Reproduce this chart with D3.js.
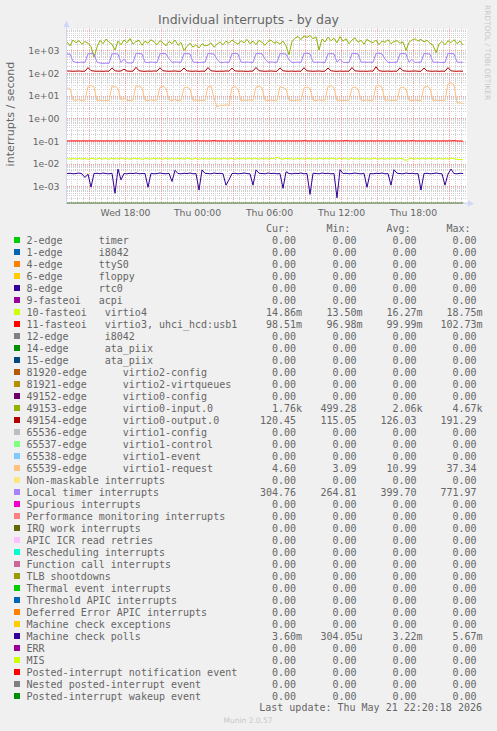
<!DOCTYPE html>
<html><head><meta charset="utf-8">
<script src="https://cdn.jsdelivr.net/npm/d3@7/dist/d3.min.js"></script>
<style>html,body{margin:0;padding:0;background:#f0f0f0;}</style>
</head><body><svg id="c" width="497" height="731"></svg>
<script>
// ---------- DATA ----------
const titleText = "Individual interrupts - by day";
const yTitle = "interrupts / second";
const yTickValues = [1e3, 1e2, 1e1, 1e0, 1e-1, 1e-2, 1e-3];
const yTickLabels = ["1e+03","1e+02","1e+01","1e+00","1e-01","1e-02","1e-03"];
const lastUpdate = "Last update: Thu May 21 22:20:18 2026";

// samples every 15 minutes starting Wed May 20 13:10
const sampleStart = new Date(2026, 4, 20, 13, 10);
const sampleStepMinutes = 15;

const legendNames = [
"2-edge      timer","1-edge      i8042","4-edge      ttyS0","6-edge      floppy","8-edge      rtc0",
"9-fasteoi   acpi","10-fasteoi   virtio4","11-fasteoi   virtio3, uhci_hcd:usb1","12-edge      i8042",
"14-edge      ata_piix","15-edge      ata_piix","81920-edge      virtio2-config","81921-edge      virtio2-virtqueues",
"49152-edge      virtio0-config","49153-edge      virtio0-input.0","49154-edge      virtio0-output.0",
"65536-edge      virtio1-config","65537-edge      virtio1-control","65538-edge      virtio1-event",
"65539-edge      virtio1-request","Non-maskable interrupts","Local timer interrupts","Spurious interrupts",
"Performance monitoring interrupts","IRQ work interrupts","APIC ICR read retries","Rescheduling interrupts",
"Function call interrupts","TLB shootdowns","Thermal event interrupts","Threshold APIC interrupts",
"Deferred Error APIC interrupts","Machine check exceptions","Machine check polls","ERR","MIS",
"Posted-interrupt notification event","Nested posted-interrupt event","Posted-interrupt wakeup event"];

const legendColors = ["#00CC00","#0066B3","#FF8000","#FFCC00","#330099","#990099","#CCFF00","#FF0000","#808080",
"#008F00","#00487D","#B35A00","#B38F00","#6B006B","#8FB300","#B30000","#BEBEBE","#80FF80","#80C9FF","#FFC080",
"#FFE680","#AA80FF","#EE00CC","#FF8080","#666600","#FFBFFF","#00FFCC","#CC6699","#999900",
"#00CC00","#0066B3","#FF8000","#FFCC00","#330099","#990099","#CCFF00","#FF0000","#808080","#008F00"];

const curVals = ["0.00","0.00","0.00","0.00","0.00","0.00","14.86m","98.51m","0.00","0.00","0.00","0.00","0.00","0.00","1.76k","120.45","0.00","0.00","0.00","4.60","0.00","304.76","0.00","0.00","0.00","0.00","0.00","0.00","0.00","0.00","0.00","0.00","0.00","3.60m","0.00","0.00","0.00","0.00","0.00"];
const minVals = ["0.00","0.00","0.00","0.00","0.00","0.00","13.50m","96.98m","0.00","0.00","0.00","0.00","0.00","0.00","499.28","115.05","0.00","0.00","0.00","3.09","0.00","264.81","0.00","0.00","0.00","0.00","0.00","0.00","0.00","0.00","0.00","0.00","0.00","304.05u","0.00","0.00","0.00","0.00","0.00"];
const avgVals = ["0.00","0.00","0.00","0.00","0.00","0.00","16.27m","99.99m","0.00","0.00","0.00","0.00","0.00","0.00","2.06k","126.03","0.00","0.00","0.00","10.99","0.00","399.70","0.00","0.00","0.00","0.00","0.00","0.00","0.00","0.00","0.00","0.00","0.00","3.22m","0.00","0.00","0.00","0.00","0.00"];
const maxVals = ["0.00","0.00","0.00","0.00","0.00","0.00","18.75m","102.73m","0.00","0.00","0.00","0.00","0.00","0.00","4.67k","191.29","0.00","0.00","0.00","37.34","0.00","771.97","0.00","0.00","0.00","0.00","0.00","0.00","0.00","0.00","0.00","0.00","0.00","5.67m","0.00","0.00","0.00","0.00","0.00"];

const virtio4 = [0.0162,0.0158,0.0167,0.0155,0.0170,0.0160,0.0165,0.0152,0.0168,0.0161,
0.0157,0.0172,0.0159,0.0166,0.0154,0.0169,0.0162,0.0158,0.0175,0.0160,
0.0164,0.0156,0.0171,0.0159,0.0167,0.0153,0.0168,0.0162,0.0157,0.0170,
0.0161,0.0165,0.0155,0.0172,0.0160,0.0166,0.0158,0.0169,0.0163,0.0156,
0.0174,0.0161,0.0159,0.0167,0.0154,0.0170,0.0162,0.0158,0.0166,0.0160,
0.0165,0.0157,0.0171,0.0163,0.0159,0.0168,0.0155,0.0169,0.0161,0.0164,
0.0158,0.0173,0.0160,0.0166,0.0156,0.0170,0.0162,0.0159,0.0167,0.0161,
0.0188,0.0163,0.0157,0.0169,0.0160,0.0165,0.0155,0.0171,0.0162,0.0158,
0.0168,0.0161,0.0164,0.0156,0.0172,0.0160,0.0166,0.0159,0.0170,0.0163,
0.0157,0.0169,0.0161,0.0165,0.0154,0.0171,0.0162,0.0158,0.0167,0.0160,
0.0164,0.0156,0.0170,0.0163,0.0159,0.0168,0.0155,0.0166,0.0161,0.0165,
0.0158,0.0172,0.0160,0.0135,0.0163,0.0169,0.0157,0.0166,0.0161,0.0164,
0.0159,0.0170,0.0162,0.0156,0.0168,0.0160,0.0165,0.0158,0.0171,0.0161,
0.0155,0.0149,0.01486];

const virtio3 = [0.0999,0.0998,0.1000,0.0997,0.0999,0.1001,0.0998,0.1003,0.0999,0.0998,
0.1000,0.0999,0.0997,0.0999,0.1001,0.1000,0.0998,0.0999,0.1000,0.0998,
0.0999,0.1000,0.0998,0.0999,0.1001,0.0999,0.1000,0.0998,0.0999,0.1020,
0.1000,0.0999,0.0998,0.1000,0.0999,0.1001,0.0998,0.0999,0.1000,0.0998,
0.0999,0.1000,0.0998,0.1022,0.0999,0.1000,0.0998,0.0999,0.1001,0.1024,
0.0998,0.0999,0.1000,0.0997,0.0999,0.1000,0.0998,0.0999,0.1001,0.0999,
0.1000,0.0998,0.0999,0.1000,0.0998,0.0999,0.1000,0.0998,0.0999,0.1001,
0.0999,0.1000,0.0998,0.0999,0.1000,0.0998,0.0999,0.1000,0.0998,0.1020,
0.0999,0.1000,0.0998,0.0999,0.1001,0.0999,0.1000,0.0998,0.0999,0.1000,
0.0998,0.0999,0.1000,0.1027,0.0999,0.1000,0.0998,0.0999,0.1000,0.0998,
0.0999,0.1000,0.0998,0.0999,0.1001,0.0999,0.1000,0.0998,0.0999,0.1000,
0.0998,0.0999,0.1000,0.0998,0.0999,0.1021,0.0999,0.1000,0.0998,0.0999,
0.1000,0.0998,0.0999,0.1000,0.0998,0.0999,0.1001,0.0999,0.1000,0.1024,
0.0999,0.0985,0.0985];

const virtio0Input = [2400,1600,2900,2200,2700,1900,2500,2100,1500,
500,1400,
2800,2000,3200,2300,1900,
1050,
2600,1800,2900,2200,3400,1900,2500,2800,1700,2600,2100,3000,2400,1800,2700,2200,1600,2500,2000,2900,1700,2300,
1000,
1500,2100,1400,1800,1300,2000,1600,1700,2200,1400,1900,
2400,1800,2600,2100,2900,2300,1900,2700,2200,3100,2000,2600,1800,2800,2300,1700,2500,2900,2100,2400,1900,2600,1600,
650,
2500,3500,4200,3000,4400,3800,4670,3300,4000,
1050,
3200,2400,3900,2700,3500,2200,4100,2600,3300,2000,2900,3600,2300,2800,1900,3100,2500,2200,2900,1800,2600,2300,3000,2000,2500,2700,2100,2400,
1000,
2300,2900,3300,2600,3100,2400,2800,2100,1700,
800,
1900,2500,1800,2700,2200,3000,2000,2600,1760];

const virtio0Output = [124,123,121,122,124,120,122,
175,128,123,121,122,120,123,121,
170,126,122,124,150,123,121,122,
180,127,122,120,123,121,124,122,
172,126,123,121,122,124,120,122,
168,125,122,121,123,120,122,121,
176,126,123,120,122,121,124,122,
165,125,122,123,121,120,122,123,
178,127,123,121,122,124,121,120,
170,126,122,121,123,120,122,121,
174,125,123,121,122,124,120,122,
169,126,122,120,123,121,122,121,
177,125,123,121,122,120,124,122,
191,127,122,121,123,120,122,121,
172,126,123,121,122,124,121,120,
168,125,122,121,123,120,122,121,
175,126,122,121,123,120.45];

const virtio1Request = [22,21,6.5,6.2,6.8,6.0,6.4,
26,29,24,6.1,6.5,5.8,6.3,6.0,
27,25,21,6.4,7.8,6.2,6.0,6.5,
28,26,22,6.3,6.0,6.6,6.2,6.4,
24,26,21,6.5,6.1,6.8,6.0,6.3,
22,24,20,6.2,6.5,6.0,6.4,6.1,
25,27,8.0,3.1,3.8,3.7,3.9,3.8,
23,25,20,6.0,6.4,6.2,6.6,6.1,
24,27,22,6.3,6.0,6.5,5.9,6.2,
25,23,20,6.4,6.1,6.0,6.5,6.2,
22,24,21,6.3,6.0,6.6,6.2,6.4,
26,28,22,6.1,6.5,6.0,6.3,6.2,
22,24,20,6.4,6.1,6.5,6.0,6.3,
27,29,23,6.2,6.6,6.0,6.4,6.1,
22,24,20,6.3,6.0,6.5,6.2,6.0,
24,26,21,6.1,6.4,6.0,6.3,6.2,
33,37.3,30,5.0,4.8,4.6];

const localTimer = [700,690,330,300,295,305,300,
720,730,700,300,280,270,275,268,
710,720,690,290,420,285,280,290,
740,730,710,300,295,310,300,295,
720,740,700,430,300,310,305,300,
730,720,700,310,300,295,300,305,
740,720,690,400,300,295,305,300,
730,750,700,305,300,310,300,295,
720,740,710,420,300,310,300,305,
730,720,690,380,300,295,305,300,
740,760,700,310,300,305,300,295,
720,730,700,305,410,300,295,300,
740,730,710,300,310,300,305,300,
730,772,700,420,300,295,300,305,
720,740,700,300,400,295,300,305,
730,720,690,300,305,300,295,300,
740,730,700,310,300,305];

const mcPolls = [0.0036,0.0037,0.0035,0.0036,0.0038,0.0035,
0.0024,0.0034,0.0009,
0.0036,0.0037,0.0035,0.0038,0.0036,0.0035,0.0037,
0.00048,0.00567,0.0019,
0.0036,0.0035,0.0037,0.0036,0.0038,0.0035,0.0036,
0.0036,0.00089,
0.0037,0.0035,0.0036,0.0038,0.0036,0.0035,0.0037,
0.0016,0.0050,
0.0036,0.0035,0.0037,0.0036,0.0038,0.0035,0.0036,
0.00067,0.0052,
0.0037,0.0036,0.0035,0.0038,0.0036,0.0037,0.0035,
0.0011,0.0019,
0.0036,0.0037,0.0035,0.0036,0.0038,0.0036,0.0035,
0.0011,0.0052,
0.0037,0.0036,0.0035,0.0038,0.0036,0.0037,0.0035,0.0036,
0.0008,0.0043,
0.0036,0.0035,0.0037,0.0036,0.0038,0.0035,0.0036,
0.00043,
0.0037,0.0036,0.0035,0.0038,0.0036,0.0037,0.0035,0.0036,
0.000304,0.0053,
0.0036,0.0037,0.0035,0.0036,0.0038,0.0036,0.0035,0.0037,
0.00089,
0.0036,0.0035,0.0037,0.0036,0.0038,0.0035,0.0036,
0.0011,0.0053,
0.0037,0.0036,0.0035,0.0038,0.0036,0.0037,0.0035,0.0036,
0.00067,
0.0036,0.0037,0.0035,0.0036,0.0038,0.0036,0.0035,
0.0011,0.0034,0.00567,
0.0036,0.0035,0.0037,0.0036];

// zero-valued series: drawn at value 0 from first to last sample
const zeroSeries = [0, 0];

// which legend row each non-zero series belongs to
const seriesByRow = {6: virtio4, 7: virtio3, 14: virtio0Input, 15: virtio0Output, 19: virtio1Request, 21: localTimer, 33: mcPolls};

// ---------- DRAW ----------
const svg = d3.select("#c");
const FONT = "#666666";
const L = 67, R = 467, T = 29, B = 203;

svg.append("rect").attr("width", 497).attr("height", 731).attr("fill", "#f0f0f0");
svg.append("rect").attr("x", L).attr("y", T).attr("width", R - L).attr("height", B - T).attr("fill", "#ffffff");

const xStart = new Date(2026, 4, 20, 13, 10);
const xEnd = new Date(2026, 4, 21, 22, 30);
const x = d3.scaleTime().domain([xStart, xEnd]).range([L, R]);
const y = d3.scaleLog().domain([1.79e-4, 8.93e3]).range([B, T]);

const times = virtio4.map((_, i) => d3.timeMinute.offset(sampleStart, sampleStepMinutes * i));

// grid
const grid = svg.append("g");
const MINOR = "#d2d2d2", MAJOR = "#f2a0a0";
const minorY = [];
for (let d = -4; d <= 3; d++) for (let m = 2; m <= 9; m++) {
  const v = m * Math.pow(10, d);
  if (v > y.domain()[0] && v < y.domain()[1]) minorY.push(v);
}
minorY.forEach(v => {
  const yy = Math.round(y(v)) + 0.5;
  grid.append("line").attr("x1", L).attr("x2", R).attr("y1", yy).attr("y2", yy)
    .attr("stroke", MINOR).attr("stroke-dasharray", "1,1");
});
d3.timeMinute.every(30).range(xStart, xEnd).forEach(t => {
  const xx = Math.round(x(t)) + 0.5;
  grid.append("line").attr("x1", xx).attr("x2", xx).attr("y1", T).attr("y2", B)
    .attr("stroke", MINOR).attr("stroke-dasharray", "1,1");
});
yTickValues.forEach(v => {
  const yy = Math.round(y(v)) + 0.5;
  grid.append("line").attr("x1", L).attr("x2", R).attr("y1", yy).attr("y2", yy)
    .attr("stroke", MAJOR).attr("stroke-dasharray", "1,1");
});
d3.timeHour.every(3).range(xStart, xEnd).forEach(t => {
  const xx = Math.round(x(t)) + 0.5;
  grid.append("line").attr("x1", xx).attr("x2", xx).attr("y1", T).attr("y2", B)
    .attr("stroke", MAJOR).attr("stroke-dasharray", "1,1");
});

// axes lines + arrows
const AX = "#CFD6F8";
svg.append("line").attr("x1", L - 0.5).attr("x2", L - 0.5).attr("y1", 24).attr("y2", B + 1).attr("stroke", AX);
svg.append("line").attr("x1", L - 1).attr("x2", R + 3).attr("y1", B + 0.5).attr("y2", B + 0.5).attr("stroke", AX);
svg.append("path").attr("d", `M${L - 0.5},20.5 L${L - 3.5},27 L${L + 2.5},27 Z`).attr("fill", AX);
svg.append("path").attr("d", `M${R + 7},${B + 0.5} L${R + 1},${B - 2.5} L${R + 1},${B + 3.5} Z`).attr("fill", AX);

// y axis labels via d3 axis
const yAxis = d3.axisLeft(y).tickValues(yTickValues).tickFormat((d, i) => yTickLabels[i]).tickSize(0).tickPadding(0);
const gy = svg.append("g").attr("transform", `translate(${L - 7.5},0)`).call(yAxis);
gy.select(".domain").remove();
gy.selectAll("text").attr("fill", FONT).attr("font-family", "DejaVu Sans").attr("font-size", "9.3px").attr("dy", "0.34em");

// x axis labels
const xAxis = d3.axisBottom(x).ticks(d3.timeHour.every(6)).tickFormat(d3.timeFormat("%a %H:%M")).tickSize(0).tickPadding(0);
const gx = svg.append("g").attr("transform", `translate(0,${B})`).call(xAxis);
gx.select(".domain").remove();
gx.selectAll("text").attr("fill", FONT).attr("font-family", "DejaVu Sans").attr("font-size", "9.3px").attr("dy", "12.7px");

// series
svg.append("clipPath").attr("id", "pc").append("rect").attr("x", L).attr("y", T - 2).attr("width", R - L).attr("height", B - T + 3);
const lines = svg.append("g").attr("clip-path", "url(#pc)");
const zeroGroup = lines.append("g").attr("opacity", 0.5);
const dataGroup = lines.append("g");
const lineGen = d3.line().x(d => x(d[0])).y(d => d[1] > 0 ? y(d[1]) : B);
legendNames.forEach((name, i) => {
  const vals = seriesByRow[i];
  let pts;
  if (vals) pts = vals.map((v, k) => [times[k], v]);
  else pts = [[times[0], zeroSeries[0]], [times[times.length - 1], zeroSeries[1]]];
  (vals ? dataGroup : zeroGroup).append("path").attr("d", lineGen(pts)).attr("fill", "none")
    .attr("stroke", legendColors[i]).attr("stroke-width", 1);
});

// title & labels
svg.append("text").attr("x", 248.5).attr("y", 24).attr("text-anchor", "middle")
  .attr("font-family", "DejaVu Sans").attr("font-size", "12.5px").attr("fill", FONT).text(titleText);
svg.append("text").attr("transform", "translate(14,114) rotate(-90)").attr("text-anchor", "middle")
  .attr("font-family", "DejaVu Sans").attr("font-size", "11.1px").attr("fill", FONT).text(yTitle);
svg.append("text").attr("transform", "translate(485,5) rotate(90)").attr("text-anchor", "start")
  .attr("font-family", "DejaVu Sans").attr("font-size", "7.4px").attr("fill", "#c8c8c8").text("RRDTOOL / TOBI OETIKER");

// legend
const MONO = "DejaVu Sans Mono";
const colEnds = [296, 356.5, 416.5, 476.5];
const headers = ["Cur:", "Min:", "Avg:", "Max:"];
headers.forEach((h, c) => {
  svg.append("text").attr("x", colEnds[c] - 30).attr("y", 231.5).attr("font-family", MONO).attr("font-size", "10px")
    .attr("fill", FONT).text(h);
});
const statCols = [curVals, minVals, avgVals, maxVals];
legendNames.forEach((name, i) => {
  const cy = 240 + 12 * i;
  svg.append("rect").attr("x", 14).attr("y", cy - 3).attr("width", 6).attr("height", 6).attr("fill", legendColors[i]);
  svg.append("text").attr("x", 26.5).attr("y", cy + 3.5).attr("font-family", MONO).attr("font-size", "10px")
    .attr("fill", FONT).attr("xml:space", "preserve").style("white-space", "pre").text(name);
  statCols.forEach((col, c) => {
    const s = col[i];
    const m = s.match(/^([\d.]+)([a-zA-Z]?)$/);
    svg.append("text").attr("x", colEnds[c]).attr("y", cy + 3.5).attr("text-anchor", "end")
      .attr("font-family", MONO).attr("font-size", "10px").attr("fill", FONT).text(m[1]);
    if (m[2]) svg.append("text").attr("x", colEnds[c]).attr("y", cy + 3.5)
      .attr("font-family", MONO).attr("font-size", "10px").attr("fill", FONT).text(m[2]);
  });
});
svg.append("text").attr("x", 482).attr("y", 711).attr("text-anchor", "end").attr("font-family", MONO)
  .attr("font-size", "10px").attr("fill", FONT).text(lastUpdate);
svg.append("text").attr("x", 248).attr("y", 722.5).attr("text-anchor", "middle").attr("font-family", "DejaVu Sans")
  .attr("font-size", "7.5px").attr("fill", "#c8c8c8").text("Munin 2.0.57");
</script></body></html>
